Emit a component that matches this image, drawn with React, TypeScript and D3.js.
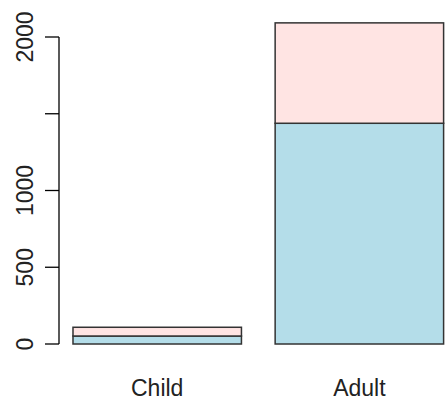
import React from "react";
import * as d3 from "d3";

const categories = ["Child", "Adult"];
const seriesNo = [52, 1438];
const seriesYes = [57, 654];
const tickValues = [0, 500, 1000, 1500, 2000];
const tickLabels = ["0", "500", "1000", "", "2000"];
const colors = ["#B4DDE9", "#FFE4E3"];

export default function App() {
  const W = 445, H = 403;
  const y = d3.scaleLinear().domain([0, 2000]).range([344, 37]);
  const x = d3.scaleLinear().domain([0, 2.4]).range([39.3, 443.6]);
  const bw = x(1) - x(0);
  const stacked = d3.stack<any>().keys(["no", "yes"])(
    categories.map((c, i) => ({ cat: c, no: seriesNo[i], yes: seriesYes[i] }))
  );
  const font = "'Liberation Sans', Arial, sans-serif";
  return (
    <svg width={W} height={H} style={{ position: "absolute", left: 0, top: 0, background: "#fff" }}>
      {stacked.map((layer, li) =>
        layer.map((d, i) => (
          <rect
            key={li + "-" + i}
            x={x(0.2 + i * 1.2)}
            y={y(d[1])}
            width={bw}
            height={y(d[0]) - y(d[1])}
            fill={colors[li]}
            stroke="#333"
            strokeWidth={1.5}
          />
        ))
      )}
      <line x1={59} x2={59} y1={y(0)} y2={y(2000)} stroke="#000" strokeWidth={1.3} />
      {tickValues.map((t, i) => (
        <g key={t}>
          <line x1={45} x2={59} y1={y(t)} y2={y(t)} stroke="#000" strokeWidth={1.3} />
          {tickLabels[i] && (
            <text
              transform={`translate(33,${y(t)}) rotate(-90)`}
              textAnchor="middle"
              fontFamily={font}
              fontSize={23}
              fill="#222"
            >
              {tickLabels[i]}
            </text>
          )}
        </g>
      ))}
      {categories.map((c, i) => (
        <text
          key={c}
          x={x(0.7 + i * 1.2)}
          y={396}
          textAnchor="middle"
          fontFamily={font}
          fontSize={23}
          fill="#222"
        >
          {c}
        </text>
      ))}
    </svg>
  );
}
